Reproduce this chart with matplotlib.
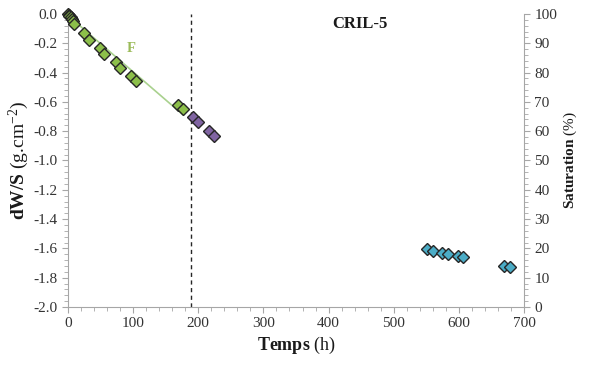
import numpy as np
import matplotlib.pyplot as plt
from matplotlib.ticker import MultipleLocator

plt.rcParams['font.family'] = ['Liberation Serif', 'DejaVu Serif']
plt.rcParams['mathtext.fontset'] = 'custom'
plt.rcParams['mathtext.rm'] = 'Liberation Serif'
plt.rcParams['mathtext.bf'] = 'Liberation Serif:bold'
plt.rcParams['mathtext.it'] = 'Liberation Serif:italic'

# phase F (green)
t_green = [0, 1, 2, 4, 6, 8, 10, 25, 32, 49, 55, 74, 80, 97, 104, 169, 177]
w_green = [0.0, -0.005, -0.012, -0.022, -0.035, -0.05, -0.065, -0.13, -0.18,
           -0.23, -0.27, -0.33, -0.37, -0.42, -0.46, -0.62, -0.65]
# purple
t_purple = [192, 200, 217, 224]
w_purple = [-0.70, -0.74, -0.80, -0.83]
# blue
t_blue = [551, 560, 574, 583, 598, 607, 670, 678]
w_blue = [-1.604, -1.616, -1.633, -1.638, -1.652, -1.661, -1.72, -1.729]

# linear fit F
fit_t = [5, 177]
fit_w = [-0.03, -0.69]
t_limit = 189

fig = plt.figure(figsize=(5.89, 3.72), dpi=100)
ax = fig.add_axes([0.1154, 0.1747, 0.7743, 0.7877])

gray = '#a6a6a6'
txt = '#333333'

ax.plot(fit_t, fit_w, color='#a9d18e', lw=1.2, zorder=2)
mk = dict(marker='D', ms=6, mec='#262626', mew=1.0, ls='none', zorder=3, clip_on=False)
ax.plot(t_green, w_green, mfc='#8cbf4a', **mk)
ax.plot(t_purple, w_purple, mfc='#8064a2', **mk)
ax.plot(t_blue, w_blue, mfc='#4bacc6', **mk)
ax.axvline(t_limit, color='#262626', ls=(0, (3, 2.5)), lw=1.0, zorder=1)

ax.text(97, -0.28, 'F', color='#9bbb59', fontsize=10.5, fontweight='bold',
        ha='center', va='bottom')
ax.text(448, -0.015, 'CRIL-5', color='#1a1a1a', fontsize=12, fontweight='bold',
        ha='center', va='top')

ax.set_xlim(0, 700)
ax.set_ylim(-2.0, 0.0)
ax.xaxis.set_major_locator(MultipleLocator(100))
ax.xaxis.set_minor_locator(MultipleLocator(20))
ax.yaxis.set_major_locator(MultipleLocator(0.2))
ax.yaxis.set_minor_locator(MultipleLocator(0.04))
ax.yaxis.set_major_formatter(plt.FuncFormatter(lambda v, p: '%.1f' % v))

for s in ['top', 'right']:
    ax.spines[s].set_visible(False)
for s in ['left', 'bottom']:
    ax.spines[s].set_color(gray)
ax.tick_params(which='both', colors=gray, labelcolor=txt, labelsize=11)
ax.tick_params(which='major', length=4)
ax.tick_params(which='minor', length=3)

ax.set_xlabel(r'$\mathbf{Temps}$ (h)', fontsize=13, color='#1a1a1a', labelpad=3)
ax.set_ylabel(r'$\mathbf{dW/S}$ (g.cm$^{-2}$)', fontsize=14, color='#1a1a1a', labelpad=2)

ax2 = ax.twinx()
ax2.set_ylim(0, 100)
ax2.yaxis.set_major_locator(MultipleLocator(10))
ax2.yaxis.set_minor_locator(MultipleLocator(2))
for s in ['top', 'left', 'bottom']:
    ax2.spines[s].set_visible(False)
ax2.spines['right'].set_color(gray)
ax2.tick_params(which='both', colors=gray, labelcolor=txt, labelsize=11)
ax2.tick_params(which='major', length=4)
ax2.tick_params(which='minor', length=3)
ax2.set_ylabel(r'$\mathbf{Saturation}$ (%)', fontsize=11, color='#1a1a1a', labelpad=3)

fig.savefig('out.png', dpi=100)
